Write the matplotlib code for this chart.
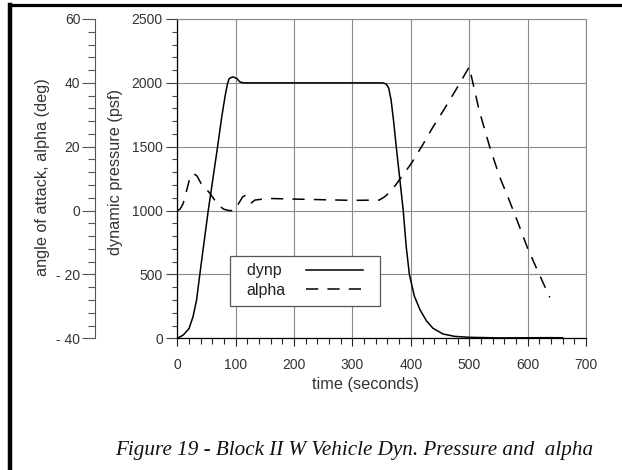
import matplotlib
matplotlib.use("Agg")
import matplotlib.pyplot as plt
from matplotlib.ticker import MultipleLocator
from matplotlib.lines import Line2D
from matplotlib.patches import Rectangle

plt.rcParams['font.family'] = ['Liberation Sans', 'DejaVu Sans']

# dynamic pressure (psf) vs time (s)
t_dynp = [0, 10, 20, 27, 33, 38, 42, 53, 69, 76, 82, 86, 89, 95, 102, 107, 113,
          200, 300, 352, 358, 362, 366, 370, 375, 381, 387, 392, 397.5, 406, 416,
          427, 438, 455, 475, 500, 550, 600, 640, 660]
dynp = [0, 25, 75, 170, 300, 480, 620, 1000, 1500, 1730, 1900, 1995, 2034, 2047,
        2034, 2008, 2000, 2000, 2000, 2000, 1990, 1960, 1870, 1720, 1500, 1250,
        1000, 720, 500, 330, 220, 135, 78, 34, 15, 8, 3, 4, 5, 4]

# angle of attack (deg) vs time (s)
t_alpha = [0, 5, 10, 15, 22, 28, 34, 40, 48, 56, 64, 72, 80, 89, 96, 100, 105, 112,
           117, 124, 127, 133, 156, 200, 250, 300, 346, 355, 362, 370, 385, 401,
           420, 438, 458, 480, 500, 517, 535, 552, 569, 585, 600, 620, 638]
alpha = [0, 0.5, 2.2, 5.6, 10.6, 11.6, 10.8, 8.7, 7.0, 5.4, 3.3, 1.4, 0.4, 0, 0,
         0.3, 2.2, 4.3, 4.8, 3.0, 2.4, 3.3, 3.8, 3.6, 3.4, 3.2, 3.3, 4.3, 5.4, 7.0,
         10.8, 14.8, 20.5, 26.2, 32.0, 38.7, 45.0, 31.4, 20.0, 10.6, 3.0,
         -4.5, -11.8, -20.0, -27.2]

alpha_ticks = [-40, -20, 0, 20, 40, 60]
alpha_labels = ['- 40', '- 20', '0', '20', '40', '60']

W, H = 622, 470
fig = plt.figure(figsize=(W / 100, H / 100), dpi=100)
ax = fig.add_axes([177.3 / W, 1 - 338.3 / H, (586 - 177.3) / W, (338.3 - 19) / H])

grid_c = '#8a8a8a'
txt_c = '#333333'

ax.plot(t_dynp, dynp, color='black', lw=1.1)
ax.set_xlim(0, 700)
ax.set_ylim(0, 2500)
ax.xaxis.set_major_locator(MultipleLocator(100))
ax.xaxis.set_minor_locator(MultipleLocator(20))
ax.yaxis.set_major_locator(MultipleLocator(500))
ax.yaxis.set_minor_locator(MultipleLocator(100))
ax.grid(True, which='major', color=grid_c, lw=0.8)
ax.set_axisbelow(True)
for s in ('top', 'right'):
    ax.spines[s].set_color(grid_c)
    ax.spines[s].set_linewidth(0.8)
for s in ('left', 'bottom'):
    ax.spines[s].set_color('black')
    ax.spines[s].set_linewidth(0.9)
ax.tick_params(axis='y', which='major', length=8, width=0.8, color='#444444',
               pad=2.4, labelsize=10, labelcolor=txt_c)
ax.tick_params(axis='y', which='minor', length=3.6, width=0.8, color='#444444')
ax.tick_params(axis='x', which='major', length=6, width=0.8, color='#222222',
               pad=8.4, labelsize=10, labelcolor=txt_c)
ax.tick_params(axis='x', which='minor', length=4, width=0.8, color='#222222')

# second y axis for alpha, offset to the left
ax2 = ax.twinx()
ax2.plot(t_alpha, alpha, color='black', lw=1.1, dashes=(8, 6))
ax2.set_ylim(-40, 60)
ax2.set_yticks(alpha_ticks, alpha_labels)
ax2.yaxis.set_minor_locator(MultipleLocator(4))
ax2.yaxis.tick_left()
ax2.spines['left'].set_position(('axes', (95 - 177.3) / (586 - 177.3)))
ax2.spines['left'].set_color('#555555')
ax2.spines['left'].set_linewidth(0.8)
for s in ('top', 'right', 'bottom'):
    ax2.spines[s].set_visible(False)
ax2.tick_params(axis='y', which='major', length=9.4, width=0.8, color='#555555',
                pad=1.2, labelsize=10, labelcolor=txt_c)
ax2.tick_params(axis='y', which='minor', length=4.8, width=0.8, color='#555555')

# axis titles
fig.text(365 / W, 1 - 384 / H, 'time (seconds)', ha='center', va='center',
         fontsize=11.7, color=txt_c)
fig.text(115 / W, 1 - 172 / H, 'dynamic pressure (psf)', ha='center', va='center',
         rotation=90, fontsize=11.7, color=txt_c)
fig.text(43 / W, 1 - 177.5 / H, 'angle of attack, alpha (deg)', ha='center',
         va='center', rotation=90, fontsize=11.7, color=txt_c)

# legend: labels left, line samples right
handles = [Line2D([], [], color='black', lw=1.1),
           Line2D([], [], color='black', lw=1.1, dashes=(8, 6))]
leg = ax2.legend(handles, ['dynp ', 'alpha'], loc='upper left',
                 bbox_to_anchor=(239 / W, 1 - 255.7 / H), bbox_transform=fig.transFigure,
                 markerfirst=False, frameon=False, fontsize=11.5, borderpad=0.48,
                 borderaxespad=0, handlelength=3.6, handletextpad=1.25,
                 labelspacing=0.28)
for t in leg.get_texts():
    t.set_color('#222222')
leg.set_zorder(6)

fig.canvas.draw()
bb = leg.get_window_extent(fig.canvas.get_renderer())
(x0, y0), (x1, y1) = fig.transFigure.inverted().transform([[bb.x0 - 9, bb.y0],
                                                           [bb.x1 + 9, bb.y1]])
ax2.add_patch(Rectangle((x0, y0), x1 - x0, y1 - y0, transform=fig.transFigure,
                        facecolor='white', edgecolor='#555555', lw=0.9, zorder=5,
                        clip_on=False))

# caption
fig.text(354.5 / W, 1 - 450 / H,
         'Figure 19 - Block II W Vehicle Dyn. Pressure and  alpha',
         ha='center', va='center', fontsize=15.2, style='italic',
         family=['Liberation Serif', 'DejaVu Serif'], color='#111111')

# page border along the top and left edges
fig.add_artist(Line2D([9.5 / W, 9.5 / W], [0, 1 - 4.7 / H], color='black', lw=3.2,
                      transform=fig.transFigure, solid_capstyle='projecting'))
fig.add_artist(Line2D([9.5 / W, 1], [1 - 4.7 / H, 1 - 4.7 / H], color='black', lw=2.3,
                      transform=fig.transFigure, solid_capstyle='projecting'))

fig.savefig('out.png', dpi=100)
